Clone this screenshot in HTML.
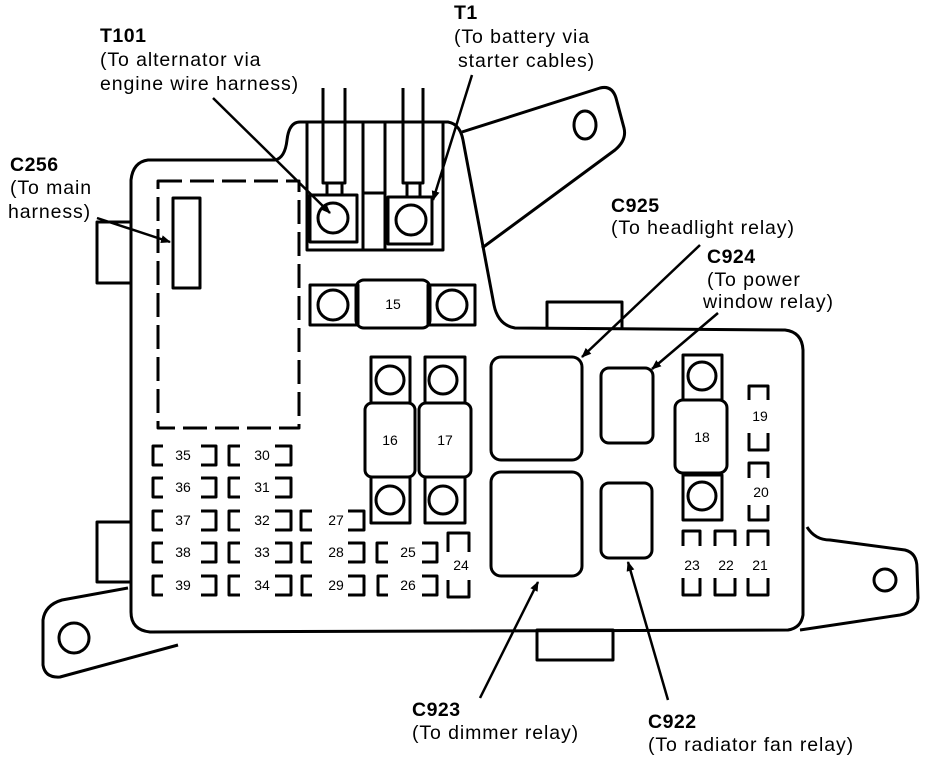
<!DOCTYPE html>
<html><head><style>
html,body{margin:0;padding:0;background:#fff;}
svg{display:block;}
text{font-family:"Liberation Sans",sans-serif;fill:#000;}
.t{font-size:19.5px;letter-spacing:0.9px;}
.b{font-size:19.5px;font-weight:bold;letter-spacing:0.5px;}
.n{font-size:14px;}
</style></head><body>
<svg width="928" height="762" viewBox="0 0 928 762" xmlns="http://www.w3.org/2000/svg">
<defs><marker id="a" markerWidth="10" markerHeight="10" refX="9" refY="5" orient="auto" markerUnits="userSpaceOnUse"><path d="M0,1 L10,5 L0,9 z" fill="#000"/></marker></defs>
<g fill="none" stroke="#000" stroke-width="3" stroke-linejoin="round">
<path d="M462,132 L600,88 Q612,85 616,98 L624,128 Q627,140 615,150 L482,248"/>
<ellipse cx="585" cy="125" rx="11" ry="14"/>
<path d="M807,527 Q815,540 830,540 L905,550 Q917,553 917,568 L918,598 Q917,612 900,615 L800,630"/>
<circle cx="885" cy="580" r="11"/>
<path d="M128,588 L62,600 Q45,605 43,620 L43,665 Q45,678 60,677 L178,645"/>
<circle cx="74" cy="638" r="15"/>
<path d="M130,222 L97,222 L97,283 L130,283"/>
<path d="M130,522 L97,522 L97,582 L130,582"/>
<rect x="537" y="630" width="76" height="30"/>
<path d="M547,328 L547,302 L622,302 L622,328"/>
<path d="M148,160 L275,160 Q285,158 287,140 Q289,122 300,122 L448,122 Q460,124 463,140 L494,305 Q498,325 515,328 L785,330 Q802,332 803,350 L803,615 Q801,628 788,630 L150,632 Q131,630 131,612 L131,180 Q133,162 148,160 Z"/>
<path d="M158,181 L299,181 L299,428 L158,428 Z" stroke-dasharray="24,8"/>
<rect x="173" y="198" width="27" height="90"/>
<path d="M307,122 L307,250 L443,250 L443,122"/>
<line x1="363" y1="122" x2="363" y2="250"/>
<line x1="385" y1="122" x2="385" y2="250"/>
<line x1="363" y1="193" x2="385" y2="193"/>
<rect x="310" y="195" width="47" height="47"/>
<circle cx="333" cy="218" r="15"/>
<rect x="388" y="197" width="44" height="47"/>
<circle cx="411" cy="220" r="15"/>
<path d="M323,88 L323,183 L345,183 L345,88"/>
<path d="M403,88 L403,183 L423,183 L423,88"/>
<path d="M327,183 L327,195 M342,183 L342,195 M407,183 L407,197 M420,183 L420,197"/>
<rect x="310" y="285" width="48" height="40"/>
<rect x="428" y="285" width="47" height="40"/>
<rect x="356" y="280" width="74" height="48" rx="8"/>
<circle cx="333" cy="305" r="15"/><circle cx="452" cy="305" r="15"/>
<rect x="371" y="357" width="39" height="46"/><rect x="371" y="477" width="39" height="46"/>
<rect x="365" y="403" width="50" height="74" rx="7"/>
<circle cx="390" cy="380" r="14"/><circle cx="390" cy="500" r="14"/>
<rect x="425" y="357" width="40" height="46"/><rect x="425" y="477" width="40" height="46"/>
<rect x="419" y="403" width="52" height="74" rx="7"/>
<circle cx="443" cy="380" r="14"/><circle cx="443" cy="500" r="14"/>
<rect x="491" y="357" width="91" height="103" rx="10"/>
<rect x="491" y="472" width="91" height="104" rx="10"/>
<rect x="601" y="368" width="52" height="75" rx="8"/>
<rect x="601" y="483" width="51" height="75" rx="8"/>
<rect x="683" y="355" width="39" height="45"/><rect x="683" y="475" width="39" height="45"/>
<rect x="675" y="400" width="52" height="73" rx="8"/>
<circle cx="702" cy="376" r="14"/><circle cx="702" cy="496" r="14"/>
<path d="M749,400 L749,386 L768,386 L768,400 M749,433 L749,450 L768,450 L768,433"/>
<path d="M749,478 L749,463 L768,463 L768,478 M749,505 L749,520 L768,520 L768,505"/>
<path d="M683,546 L683,531 L700,531 L700,546 M683,578 L683,595 L700,595 L700,578"/>
<path d="M715,546 L715,531 L735,531 L735,546 M715,578 L715,595 L735,595 L735,578"/>
<path d="M748,546 L748,531 L768,531 L768,546 M748,578 L748,595 L768,595 L768,578"/>
<path d="M448,552 L448,533 L469,533 L469,552 M448,580 L448,597 L469,597 L469,580"/>
<g>
<path d="M163,446 L153,446 L153,465 L163,465 M201,446 L216,446 L216,465 L201,465"/>
<path d="M240,446 L229,446 L229,465 L240,465 M275,446 L291,446 L291,465 L275,465"/>
<path d="M163,478 L153,478 L153,497 L163,497 M201,478 L216,478 L216,497 L201,497"/>
<path d="M240,478 L229,478 L229,497 L240,497 M275,478 L291,478 L291,497 L275,497"/>
<path d="M163,511 L153,511 L153,530 L163,530 M201,511 L216,511 L216,530 L201,530"/>
<path d="M240,511 L229,511 L229,530 L240,530 M275,511 L291,511 L291,530 L275,530"/>
<path d="M312,511 L301,511 L301,530 L312,530 M348,511 L364,511 L364,530 L348,530"/>
<path d="M163,543 L153,543 L153,562 L163,562 M201,543 L216,543 L216,562 L201,562"/>
<path d="M240,543 L229,543 L229,562 L240,562 M275,543 L291,543 L291,562 L275,562"/>
<path d="M312,543 L302,543 L302,562 L312,562 M348,543 L364,543 L364,562 L348,562"/>
<path d="M388,543 L377,543 L377,562 L388,562 M422,543 L437,543 L437,562 L422,562"/>
<path d="M163,576 L153,576 L153,595 L163,595 M201,576 L216,576 L216,595 L201,595"/>
<path d="M240,576 L229,576 L229,595 L240,595 M275,576 L291,576 L291,595 L275,595"/>
<path d="M312,576 L302,576 L302,595 L312,595 M348,576 L364,576 L364,595 L348,595"/>
<path d="M388,576 L378,576 L378,595 L388,595 M422,576 L437,576 L437,595 L422,595"/>
</g>
</g>
<g stroke="#000" stroke-width="2.5" fill="none">
<line x1="213" y1="98" x2="330" y2="213" marker-end="url(#a)"/>
<line x1="472" y1="75" x2="433" y2="200" marker-end="url(#a)"/>
<line x1="97" y1="218" x2="170" y2="242" marker-end="url(#a)"/>
<line x1="700" y1="245" x2="582" y2="357" marker-end="url(#a)"/>
<line x1="718" y1="313" x2="652" y2="369" marker-end="url(#a)"/>
<line x1="480" y1="698" x2="538" y2="582" marker-end="url(#a)"/>
<line x1="668" y1="700" x2="628" y2="562" marker-end="url(#a)"/>
</g>
<g class="n" text-anchor="middle">
<text x="393" y="309">15</text>
<text x="390" y="445">16</text><text x="445" y="445">17</text><text x="702" y="442">18</text>
<text x="760" y="421">19</text><text x="761" y="497">20</text>
<text x="692" y="570">23</text><text x="726" y="570">22</text><text x="760" y="570">21</text>
<text x="461" y="570">24</text>
<text x="183" y="460">35</text><text x="262" y="460">30</text>
<text x="183" y="492">36</text><text x="262" y="492">31</text>
<text x="183" y="525">37</text><text x="262" y="525">32</text><text x="336" y="525">27</text>
<text x="183" y="557">38</text><text x="262" y="557">33</text><text x="336" y="557">28</text><text x="408" y="557">25</text>
<text x="183" y="590">39</text><text x="262" y="590">34</text><text x="336" y="590">29</text><text x="408" y="590">26</text>
</g>
<text x="100" y="42" class="b">T101</text>
<text x="100" y="66" class="t">(To alternator via</text>
<text x="100" y="90" class="t">engine wire harness)</text>
<text x="454" y="19" class="b">T1</text>
<text x="454" y="43" class="t">(To battery via</text>
<text x="458" y="67" class="t">starter cables)</text>
<text x="10" y="171" class="b">C256</text>
<text x="10" y="194" class="t">(To main</text>
<text x="8" y="218" class="t">harness)</text>
<text x="611" y="212" class="b">C925</text>
<text x="611" y="234" class="t">(To headlight relay)</text>
<text x="707" y="263" class="b">C924</text>
<text x="707" y="286" class="t">(To power</text>
<text x="703" y="308" class="t">window relay)</text>
<text x="412" y="716" class="b">C923</text>
<text x="412" y="739" class="t">(To dimmer relay)</text>
<text x="648" y="728" class="b">C922</text>
<text x="648" y="751" class="t">(To radiator fan relay)</text>
</svg>
</body></html>
